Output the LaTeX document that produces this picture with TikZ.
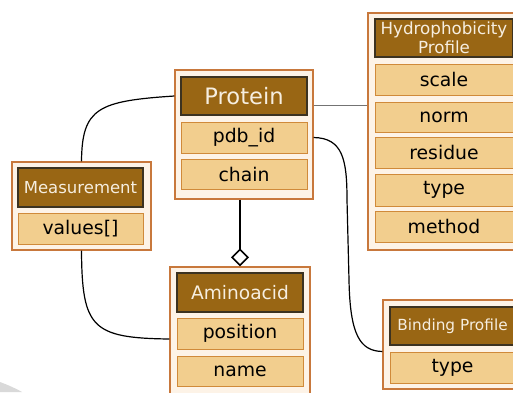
\documentclass[tikz,border=0pt]{standalone}
\usepackage{fontspec}
\setmainfont{DejaVu Sans}
\usetikzlibrary{arrows.meta,calc}
\definecolor{outerdraw}{HTML}{C8783C}
\definecolor{outerfill}{HTML}{FDF3E7}
\definecolor{headfill}{HTML}{996614}
\definecolor{headdraw}{HTML}{3C3220}
\definecolor{headtext}{HTML}{F6EEE0}
\definecolor{fielddraw}{HTML}{D08A3A}
\definecolor{fieldfill}{HTML}{F2CE8E}
\tikzset{
  outerbox/.style={draw=outerdraw, fill=outerfill, line width=1.2pt, inner sep=0pt},
  headbox/.style={draw=headdraw, fill=headfill, line width=1.2pt, inner sep=0pt, text=headtext, align=center},
  fieldbox/.style={draw=fielddraw, fill=fieldfill, line width=1pt, inner sep=0pt, font=\fontsize{18.8}{20}\selectfont},
  conn/.style={line width=1.2pt, black},
}
\begin{document}
\begin{tikzpicture}[x=1pt,y=-1pt]
\useasboundingbox (0,0) rectangle (513,392);
\fill[gray!30] (0,382) .. controls (8,385) and (15,388) .. (22,392) -- (0,392) -- cycle;
% Protein
\node[outerbox, minimum width=138pt, minimum height=129pt] (prot) at (244,134.5) {};
\node[headbox, minimum width=126pt, minimum height=38pt, font=\fontsize{22.6}{24}\selectfont] (phead) at (244,96) {Protein};
\node[fieldbox, minimum width=126pt, minimum height=31pt] (pdb) at (244,137.5) {pdb\_id};
\node[fieldbox, minimum width=126pt, minimum height=30pt] (chain) at (244,174) {chain};
% Hydrophobicity
\node[outerbox, minimum width=152pt, minimum height=237pt] (hydro) at (444,131.5) {};
\node[headbox, minimum width=138pt, minimum height=38pt, font=\fontsize{16.7}{19}\selectfont] (hhead) at (444,38) {Hydrophobicity\\Profile};
\node[fieldbox, minimum width=138pt, minimum height=31pt] (scale) at (444,79.5) {scale};
\node[fieldbox, minimum width=138pt, minimum height=30pt] (norm) at (444,117) {norm};
\node[fieldbox, minimum width=138pt, minimum height=31pt] (residue) at (444,152.5) {residue};
\node[fieldbox, minimum width=138pt, minimum height=32pt] (htype) at (444,190) {type};
\node[fieldbox, minimum width=138pt, minimum height=31pt] (method) at (444,226.5) {method};
% Measurement
\node[outerbox, minimum width=139pt, minimum height=88pt] (meas) at (81.5,206) {};
\node[headbox, minimum width=125pt, minimum height=39pt, font=\fontsize{16.5}{18}\selectfont] (mhead) at (80.5,187.5) {Measurement};
\node[fieldbox, minimum width=125pt, minimum height=31pt] (values) at (80.5,228.5) {values[]};
% Aminoacid
\node[outerbox, minimum width=140pt, minimum height=144pt] (amino) at (240,339) {};
\node[headbox, minimum width=126pt, minimum height=39pt, font=\fontsize{18.6}{20}\selectfont] (ahead) at (240,292.5) {Aminoacid};
\node[fieldbox, minimum width=126pt, minimum height=31pt] (position) at (240,333.5) {position};
\node[fieldbox, minimum width=126pt, minimum height=30pt] (name) at (240,371) {name};
% Binding Profile
\node[outerbox, minimum width=139pt, minimum height=89pt] (bind) at (452.5,344.5) {};
\node[headbox, minimum width=125pt, minimum height=38pt, font=\fontsize{15.3}{17}\selectfont] (bhead) at (452.5,326) {Binding Profile};
\node[fieldbox, minimum width=125pt, minimum height=31pt] (btype) at (452.5,367.5) {type};
% connectors
\draw[conn] (prot.west |- phead.center) .. controls (98,101) and (82,108) .. (meas.north);
\coordinate (pr) at ([yshift=-36pt]prot.north east);
\draw[line width=1.3pt, black!55] (pr) -- (pr -| hydro.west);
\draw[conn] (prot.east |- pdb.center) .. controls (343,138) and (347,160) .. (347,200)
  -- (349,280) .. controls (350,335) and (360,351) .. (bind.west |- btype.north);
\draw[conn] (meas.south) .. controls (82,328) and (92,338) .. (amino.west);
\draw[line width=1.6pt, -{Diamond[open,fill=white,length=18pt,width=18pt,line width=1.6pt]}] (prot.south -| amino.north) -- (amino.north);
\end{tikzpicture}
\end{document}
